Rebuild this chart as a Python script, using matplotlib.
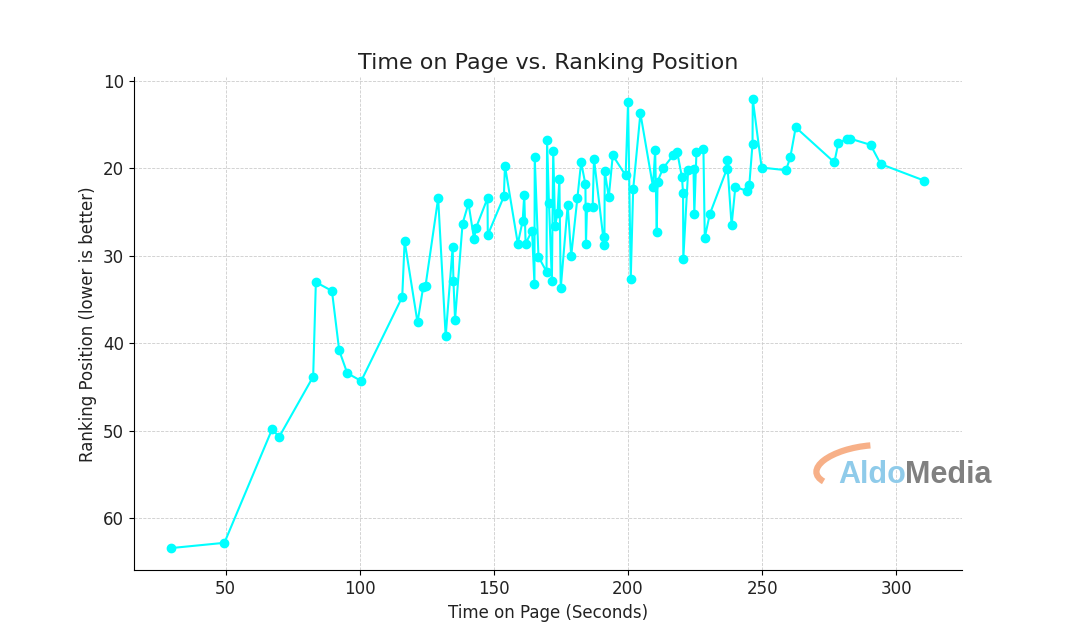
import matplotlib
matplotlib.use("Agg")
import matplotlib.pyplot as plt
from matplotlib.patches import Arc

# time on page (seconds) and ranking position
time_sec = [29.7, 49.5, 67.3, 69.9, 82.6, 83.6, 89.6, 92.3, 95.3, 100.5,
            115.8, 116.7, 121.5, 123.6, 124.5, 129.2, 132.0, 134.6, 134.9, 135.5,
            138.3, 140.5, 142.6, 143.3, 147.6, 147.7, 153.7, 154.1, 158.9, 160.7,
            161.3, 161.8, 164.2, 165.1, 165.2, 166.6, 169.6, 169.8, 170.5, 171.6,
            172.1, 172.8, 173.7, 174.4, 174.9, 177.5, 178.8, 181.1, 182.5, 184.1,
            184.3, 184.7, 186.8, 187.3, 191.1, 191.2, 191.3, 192.8, 194.3, 199.1,
            200.0, 201.0, 201.9, 204.6, 209.3, 210.1, 210.7, 211.0, 213.0, 216.8,
            218.3, 220.1, 220.5, 220.6, 222.4, 224.4, 224.7, 225.5, 228.1, 228.6,
            230.5, 236.8, 236.9, 238.6, 240.0, 244.5, 245.2, 246.4, 246.5, 249.8,
            258.9, 260.5, 262.5, 276.9, 278.4, 281.6, 282.9, 290.4, 294.2, 310.5]

rank_pos = [63.4, 62.8, 49.8, 50.7, 43.8, 33.0, 34.0, 40.8, 43.4, 44.3,
            34.7, 28.3, 37.6, 33.6, 33.4, 23.4, 39.2, 29.0, 32.9, 37.3,
            26.3, 24.0, 28.1, 26.8, 23.4, 27.6, 23.2, 19.7, 28.6, 26.0,
            23.0, 28.6, 27.1, 33.2, 18.7, 30.1, 31.8, 16.7, 23.9, 32.9,
            18.0, 26.6, 25.1, 21.2, 33.7, 24.2, 30.0, 23.4, 19.3, 21.8,
            28.6, 24.4, 24.4, 18.9, 28.8, 27.8, 20.3, 23.3, 18.5, 20.8,
            12.4, 32.6, 22.4, 13.7, 22.1, 17.9, 27.3, 21.5, 20.0, 18.5,
            18.1, 21.0, 22.8, 30.3, 20.2, 20.1, 25.2, 18.1, 17.8, 27.9,
            25.2, 20.1, 19.0, 26.5, 22.1, 22.6, 21.9, 17.2, 12.1, 19.9,
            20.2, 18.7, 15.3, 19.3, 17.1, 16.6, 16.6, 17.3, 19.5, 21.4]

fig, ax = plt.subplots(figsize=(10.69, 6.41), dpi=100)
fig.subplots_adjust(left=0.125, right=0.9, bottom=0.11, top=0.88)

ax.plot(time_sec, rank_pos, color="cyan", marker="o", markersize=6, linewidth=1.5)
ax.invert_yaxis()

ax.set_title("Time on Page vs. Ranking Position", fontsize=16, color="#222222")
ax.set_xlabel("Time on Page (Seconds)", fontsize=12, color="#222222")
ax.set_ylabel("Ranking Position (lower is better)", fontsize=12, color="#222222")
ax.tick_params(labelsize=12, labelcolor="#222222")
ax.grid(True, linestyle="--", linewidth=0.6, color="#cccccc")
ax.spines["top"].set_visible(False)
ax.spines["right"].set_visible(False)

# AldoMedia watermark (pixel coords, origin bottom-left)
H = 641
swoosh = Arc((866, H - 466), 100, 40, angle=8, theta1=70, theta2=192,
             color="#f7b088", linewidth=4.5, transform=None, zorder=5)
fig.add_artist(swoosh)
fig.text(838 / 1069, 1 - 483 / H, "Aldo", color="#8fcbea", fontsize=22,
         fontweight="bold", family="Liberation Sans", va="baseline", zorder=6)
fig.text(905 / 1069, 1 - 483 / H, "Media", color="#808080", fontsize=22,
         fontweight="bold", family="Liberation Sans", va="baseline", zorder=6)

fig.savefig("out.png", dpi=100)
